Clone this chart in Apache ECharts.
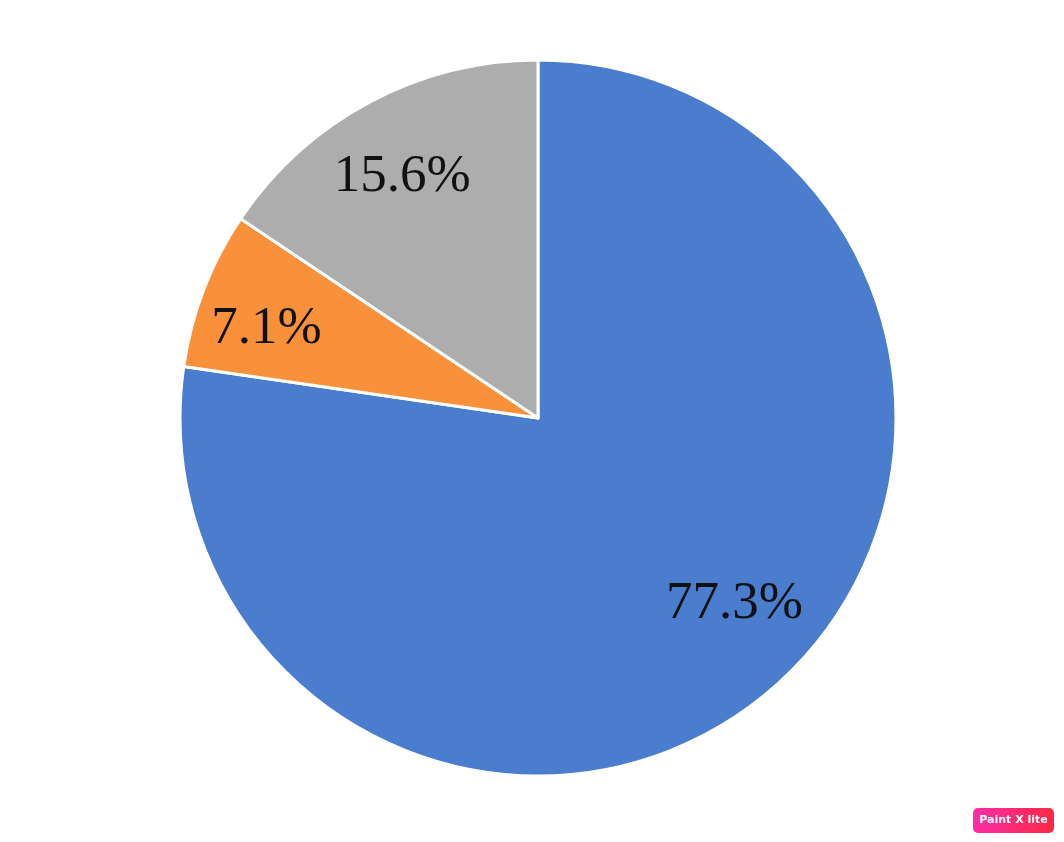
<!DOCTYPE html>
<html>
<head>
<meta charset="utf-8">
<script src="https://cdn.jsdelivr.net/npm/echarts@6/dist/echarts.min.js"></script>
<style>html,body{margin:0;padding:0;background:#fff;}#c{width:1064px;height:842px;}</style>
</head>
<body>
<div id="c"></div>
<script>
var categories = ['A', 'B', 'C'];
var values = [77.3, 7.1, 15.6];
var colors = ['#4a7dcd', '#f8913a', '#adadad'];

var labelNudges = [[16, -23], [-14, 10], [-6, 3]];

var chart = echarts.init(document.getElementById('c'));
var data = categories.map(function (n, i) { return { name: n, value: values[i], itemStyle: { color: colors[i] } }; });
var labelData = categories.map(function (n, i) { return { name: n, value: values[i], label: { offset: labelNudges[i] } }; });

chart.setOption({
  animation: false,
  series: [
    {
      type: 'pie',
      center: [538, 418],
      radius: [0, 358],
      startAngle: 90,
      clockwise: true,
      silent: true,
      data: data,
      itemStyle: { borderColor: '#ffffff', borderWidth: 3 },
      label: { show: false },
      labelLine: { show: false }
    },
    {
      type: 'pie',
      center: [538, 418],
      radius: [188, 358],
      startAngle: 90,
      clockwise: true,
      silent: true,
      data: labelData,
      itemStyle: { color: 'rgba(0,0,0,0)', borderWidth: 0 },
      label: {
        show: true,
        position: 'inside',
        formatter: function (p) { return p.value.toFixed(1) + '%'; },
        fontFamily: '"Liberation Serif", "Times New Roman", serif',
        fontSize: 53,
        color: '#111111'
      },
      labelLine: { show: false }
    }
  ],
  graphic: [
    {
      type: 'group',
      left: 973, top: 808,
      children: [
        { type: 'rect', shape: { x: 0, y: 0, width: 81, height: 25, r: 5 },
          style: { fill: new echarts.graphic.LinearGradient(0, 0, 1, 0, [{ offset: 0, color: '#fb2ea8' }, { offset: 1, color: '#fd2742' }]) } },
        { type: 'text', x: 40.5, y: 12.5,
          style: { text: 'Paint X lite', fill: '#ffffff', font: 'bold 11px "DejaVu Sans", sans-serif', align: 'center', verticalAlign: 'middle' } }
      ]
    }
  ]
});
</script>
</body>
</html>
